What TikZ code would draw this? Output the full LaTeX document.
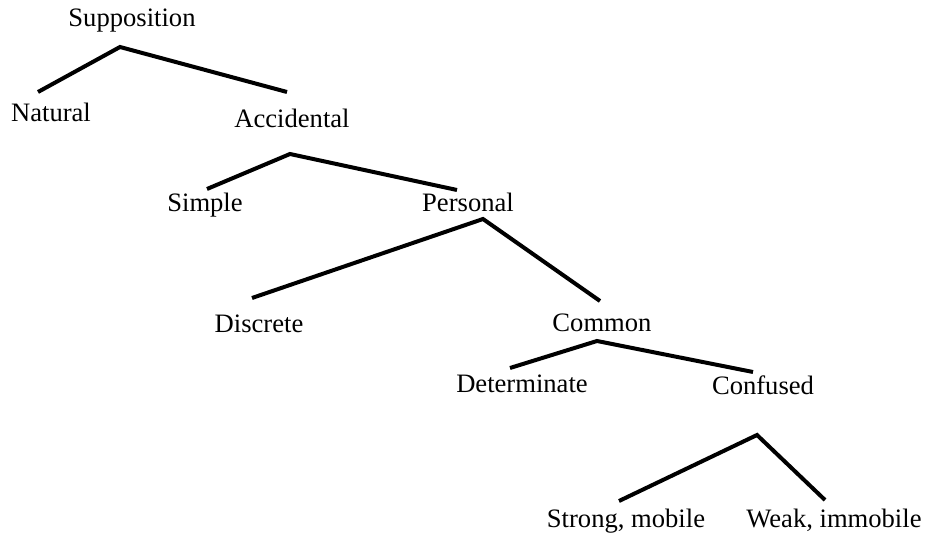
\documentclass[tikz,border=0pt]{standalone}
\usepackage{fontspec}
\setmainfont{Liberation Serif}
\newcommand{\pxsize}{0.5pt}

\begin{document}
\begin{tikzpicture}
\useasboundingbox (0*\pxsize,0*\pxsize) rectangle (926*\pxsize,-539*\pxsize);
\tikzstyle{every node}=[anchor=base,
                        inner sep=0pt,
                        font=\fontsize{13.3}{15}\selectfont
                        ]
\tikzstyle{branch}=[line width=2pt, line join=miter]
% labels
\node (supp) at (132*\pxsize,-27*\pxsize) {Supposition};
\node (nat)  at (51*\pxsize,-122*\pxsize) {Natural};
\node (acc)  at (292*\pxsize,-128*\pxsize) {Accidental};
\node (simp) at (205*\pxsize,-212*\pxsize) {Simple};
\node (pers) at (468*\pxsize,-212*\pxsize) {Personal};
\node (disc) at (259*\pxsize,-333*\pxsize) {Discrete};
\node (comm) at (602*\pxsize,-332*\pxsize) {Common};
\node (det)  at (522*\pxsize,-393*\pxsize) {Determinate};
\node (conf) at (763*\pxsize,-395*\pxsize) {Confused};
\node (strg) at (626*\pxsize,-527*\pxsize) {Strong, mobile};
\node (weak) at (834*\pxsize,-527*\pxsize) {Weak, immobile};
% branch points
\coordinate (suppTop) at (120*\pxsize,-47*\pxsize);
\coordinate (natEnd)  at (38*\pxsize,-92*\pxsize);
\coordinate (accEnd)  at (287*\pxsize,-92*\pxsize);
\coordinate (accTop)  at (290*\pxsize,-154*\pxsize);
\coordinate (simpEnd) at (207*\pxsize,-189*\pxsize);
\coordinate (persEnd) at (457*\pxsize,-190*\pxsize);
\coordinate (persTop) at (483*\pxsize,-219*\pxsize);
\coordinate (discEnd) at (252*\pxsize,-298*\pxsize);
\coordinate (commEnd) at (600*\pxsize,-301*\pxsize);
\coordinate (commTop) at (597*\pxsize,-341*\pxsize);
\coordinate (detEnd)  at (510*\pxsize,-368*\pxsize);
\coordinate (confEnd) at (753*\pxsize,-372*\pxsize);
\coordinate (confTop) at (757*\pxsize,-435*\pxsize);
\coordinate (strgEnd) at (619*\pxsize,-501*\pxsize);
\coordinate (weakEnd) at (825*\pxsize,-500*\pxsize);
% branches
\draw[branch] (natEnd) -- (suppTop) -- (accEnd);
\draw[branch] (simpEnd) -- (accTop) -- (persEnd);
\draw[branch] (discEnd) -- (persTop) -- (commEnd);
\draw[branch] (detEnd) -- (commTop) -- (confEnd);
\draw[branch] (strgEnd) -- (confTop) -- (weakEnd);
\end{tikzpicture}
\end{document}
